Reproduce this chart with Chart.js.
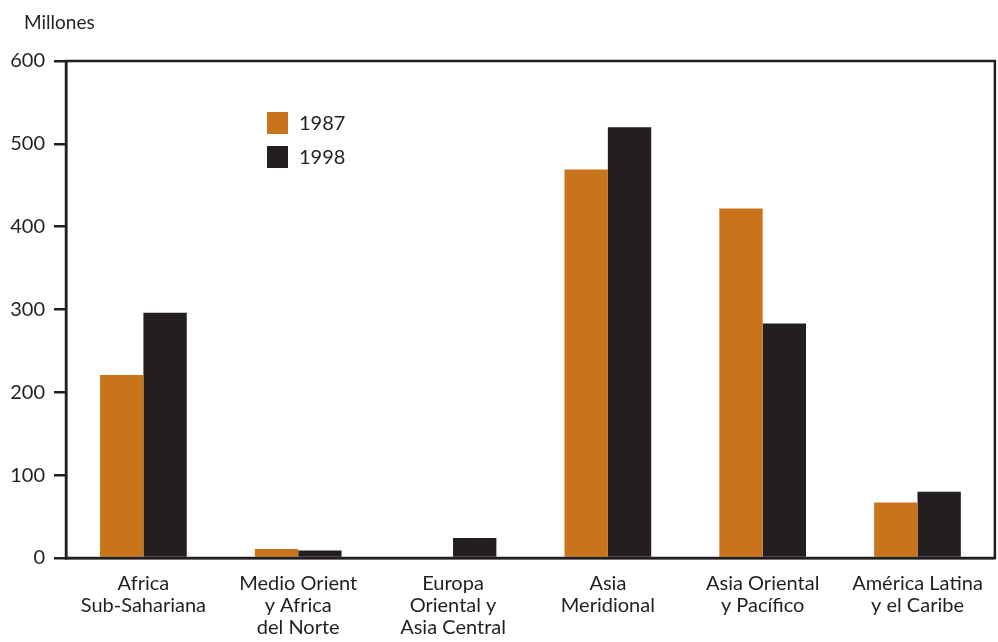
<!DOCTYPE html>
<html>
<head>
<meta charset="utf-8">
<script src="https://cdn.jsdelivr.net/npm/chart.js@4/dist/chart.umd.min.js"></script>
<style>
html,body{margin:0;padding:0;background:#fff;}
#wrap{width:998px;height:642px;position:relative;}
</style>
</head>
<body>
<div id="wrap"><canvas id="c" width="998" height="642"></canvas></div>
<script>
const categories = [
  ["Africa","Sub-Sahariana"],
  ["Medio Orient","y Africa","del Norte"],
  ["Europa","Oriental y","Asia Central"],
  ["Asia","Meridional"],
  ["Asia Oriental","y Pacífico"],
  ["América Latina","y el Caribe"]
];
const series1987 = [221, 11, 0, 469, 422, 67];
const series1998 = [296, 9, 24, 520, 283, 80];
const yTicks = [0, 100, 200, 300, 400, 500, 600];
const unitLabel = "Millones";

const FONT = "Lato, 'DejaVu Sans', sans-serif";
const INK = "#231F20";
const ORANGE = "#C9731A";

const framePlugin = {
  id: 'frame',
  afterDraw(chart) {
    const ctx = chart.ctx, a = chart.chartArea;
    ctx.save();
    ctx.strokeStyle = INK;
    ctx.lineWidth = 2.5;
    ctx.strokeRect(a.left, a.top, a.right - a.left, a.bottom - a.top);
    ctx.fillStyle = INK;
    ctx.font = "19px " + FONT;
    ctx.textBaseline = "middle";
    ctx.textAlign = "left";
    ctx.fillText(unitLabel, 24, 23);
    const items = chart.data.datasets;
    items.forEach((ds, i) => {
      const y = 112 + i * 34;
      ctx.fillStyle = ds.backgroundColor;
      ctx.fillRect(267, y, 21, 22);
      ctx.fillStyle = INK;
      ctx.font = "20px " + FONT;
      ctx.fillText(ds.label, 299, y + 12);
    });
    ctx.restore();
  }
};

new Chart(document.getElementById('c'), {
  type: 'bar',
  data: {
    labels: categories,
    datasets: [
      { label: "1987", data: series1987, backgroundColor: ORANGE, borderWidth: 0 },
      { label: "1998", data: series1998, backgroundColor: INK, borderWidth: 0 }
    ]
  },
  options: {
    responsive: false,
    animation: false,
    devicePixelRatio: 1,
    layout: { padding: { top: 61, right: 2, left: 0, bottom: 0 } },
    plugins: { legend: { display: false }, tooltip: { enabled: false } },
    datasets: { bar: { categoryPercentage: 0.56, barPercentage: 1.0 } },
    scales: {
      x: {
        afterFit(scale) { scale.height = 84; },
        grid: { display: false, drawTicks: false },
        border: { display: true, color: INK, width: 2.5 },
        ticks: { color: INK, font: { family: FONT, size: 20, lineHeight: '22px' }, padding: 15, maxRotation: 0, autoSkip: false }
      },
      y: {
        min: 0, max: 600,
        afterFit(scale) { scale.width = 66; },
        afterBuildTicks(scale) { scale.ticks = yTicks.map(v => ({ value: v })); },
        grid: { drawOnChartArea: false, drawTicks: true, tickLength: 12, color: INK, lineWidth: 2.5 },
        border: { display: true, color: INK, width: 2.5 },
        ticks: { color: INK, font: { family: FONT, size: 20 }, padding: 9 }
      }
    }
  },
  plugins: [framePlugin]
});
</script>
</body>
</html>
